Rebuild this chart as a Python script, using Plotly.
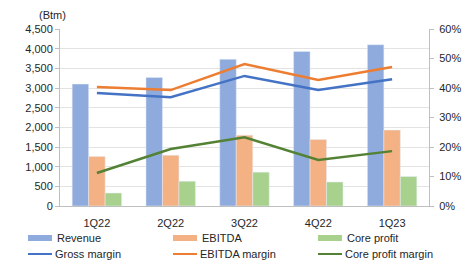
import plotly.graph_objects as go

quarters = ["1Q22", "2Q22", "3Q22", "4Q22", "1Q23"]
revenue = [3100, 3270, 3730, 3930, 4100]
ebitda = [1260, 1290, 1800, 1690, 1930]
core_profit = [330, 630, 860, 610, 750]
gross_margin = [38.3, 36.9, 44.1, 39.3, 43.0]
ebitda_margin = [40.3, 39.3, 48.1, 42.7, 47.1]
core_margin = [11.2, 19.3, 23.3, 15.6, 18.6]
left_ticks = list(range(0, 4501, 500))
right_ticks = list(range(0, 61, 10))
right_labels = [f"{v}%" for v in right_ticks]

C_REV, C_EB, C_CP = "#8FAADC", "#F4B183", "#A9D18E"
L_GM, L_EM, L_CM = "#4472C4", "#ED7D31", "#548235"

W, H = 474, 264
ML, MR, MT, MB = 60, 45, 29, 58
PW, PH = W - ML - MR, H - MT - MB

font = dict(family="Liberation Sans, Arial, sans-serif", size=11, color="#262626")

fig = go.Figure()
bars = [("Revenue", revenue, C_REV), ("EBITDA", ebitda, C_EB), ("Core profit", core_profit, C_CP)]
lines = [("Gross margin", gross_margin, L_GM), ("EBITDA margin", ebitda_margin, L_EM), ("Core profit margin", core_margin, L_CM)]
for name, vals, col in bars:
    fig.add_trace(go.Bar(x=quarters, y=vals, name=name, marker_color=col, showlegend=False, yaxis="y"))
for name, vals, col in lines:
    fig.add_trace(go.Scatter(x=quarters, y=vals, mode="lines", name=name, showlegend=False,
                             line=dict(color=col, width=2.5), yaxis="y2"))

# hand-built legend (two rows x three columns) in pixel positions converted to paper units
def px(x):
    return (x - ML) / PW

def py(y):
    return (H - MB - y) / PH

shapes, annotations = [], []
col_x = [28, 173, 318]
row_y = [238, 254]
for i, (name, _, col) in enumerate(bars):
    x0 = col_x[i]
    shapes.append(dict(type="rect", xref="paper", yref="paper", x0=px(x0), x1=px(x0 + 24),
                       y0=py(row_y[0] + 3), y1=py(row_y[0] - 3), fillcolor=col, line=dict(width=0)))
    annotations.append(dict(text=name, xref="paper", yref="paper", x=px(x0 + 27), y=py(row_y[0]),
                            xanchor="left", yanchor="middle", showarrow=False, font=font))
for i, (name, _, col) in enumerate(lines):
    x0 = col_x[i]
    shapes.append(dict(type="line", xref="paper", yref="paper", x0=px(x0), x1=px(x0 + 24),
                       y0=py(row_y[1]), y1=py(row_y[1]), line=dict(color=col, width=2)))
    annotations.append(dict(text=name, xref="paper", yref="paper", x=px(x0 + 25), y=py(row_y[1]),
                            xanchor="left", yanchor="middle", showarrow=False, font=font))

annotations.append(dict(text="(Btm)", x=0, xref="paper", xanchor="right", xshift=8, y=1, yref="paper",
                        yanchor="bottom", yshift=6, showarrow=False, font=font))

fig.update_layout(
    width=W, height=H,
    margin=dict(l=ML, r=MR, t=MT, b=MB),
    paper_bgcolor="white", plot_bgcolor="white",
    font=font, showlegend=False,
    barmode="group", bargap=0.33, bargroupgap=0,
    xaxis=dict(showline=True, linecolor="#BFBFBF", linewidth=1, ticks="outside", ticklen=7,
               tickcolor="rgba(0,0,0,0)", tickfont=font, showgrid=False),
    yaxis=dict(range=[0, 4500], tickvals=left_ticks, tickformat=",d", showgrid=True, gridcolor="#E3E3E3",
               showline=True, linecolor="#BFBFBF", ticks="outside", ticklen=4, tickcolor="#BFBFBF", zeroline=False),
    yaxis2=dict(range=[0, 60], tickvals=right_ticks, ticktext=right_labels, overlaying="y", side="right",
                showgrid=False, showline=True, linecolor="#BFBFBF", ticks="outside", ticklen=4,
                tickcolor="#BFBFBF", zeroline=False, ticklabelstandoff=3),
    shapes=shapes,
    annotations=annotations,
)
fig.write_html("out.html", config={"displayModeBar": False},
               post_script="document.body.style.margin='0';document.body.style.overflow='hidden';")
